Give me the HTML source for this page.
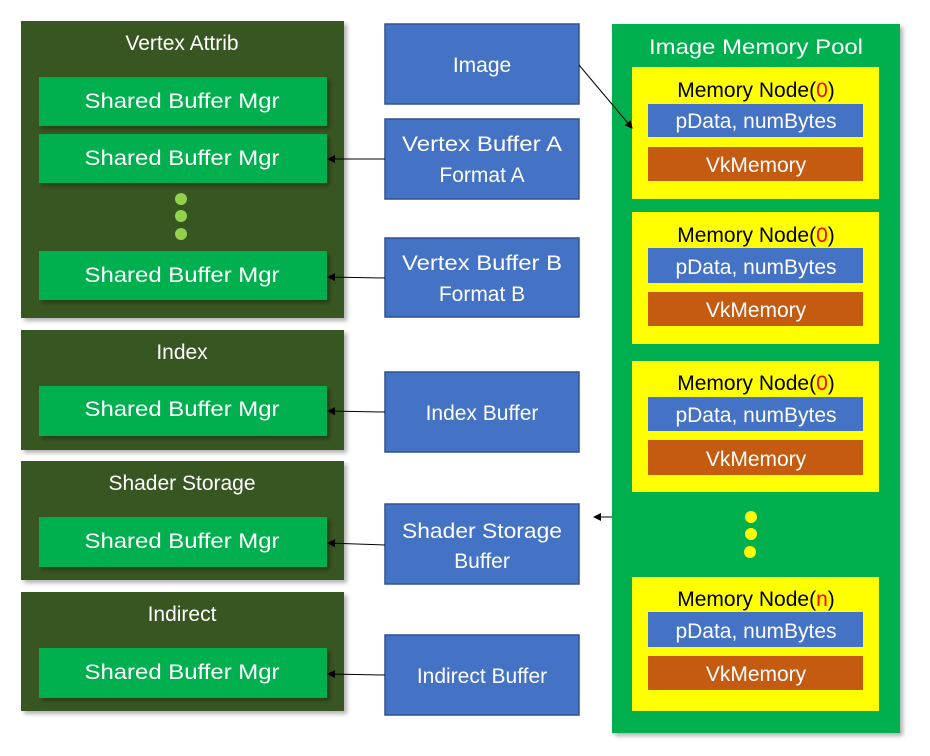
<!DOCTYPE html>
<html><head><meta charset="utf-8"><style>
html,body{margin:0;padding:0;background:#fff;}
svg{display:block;font-family:"Liberation Sans",sans-serif;}
</style></head><body>
<svg width="930" height="756" viewBox="0 0 930 756" xmlns="http://www.w3.org/2000/svg">
<defs>
<filter id="sh" x="-5%" y="-5%" width="115%" height="115%"><feDropShadow dx="3" dy="3" stdDeviation="2" flood-color="#000" flood-opacity="0.3"/></filter>
<marker id="ar" markerWidth="8" markerHeight="8" refX="7" refY="4" orient="auto" markerUnits="userSpaceOnUse"><path d="M0,0 L8,4 L0,8 z" fill="#000"/></marker>
</defs>
<!-- Left panels -->
<g filter="url(#sh)">
<rect x="21" y="21" width="323" height="297" fill="#375623"/>
<rect x="21" y="330" width="323" height="120" fill="#375623"/>
<rect x="21" y="461" width="323" height="119" fill="#375623"/>
<rect x="21" y="592" width="323" height="119" fill="#375623"/>
</g>
<g fill="#fff" font-size="21" text-anchor="middle">
<text x="182" y="50">Vertex Attrib</text>
<text x="182" y="359">Index</text>
<text x="182" y="490">Shader Storage</text>
<text x="182" y="621">Indirect</text>
</g>
<g filter="url(#sh)" fill="#00b050">
<rect x="39" y="77" width="288" height="49"/>
<rect x="39" y="134" width="288" height="49"/>
<rect x="39" y="251" width="288" height="49"/>
<rect x="39" y="386" width="288" height="50"/>
<rect x="39" y="517" width="288" height="50"/>
<rect x="39" y="648" width="288" height="50"/>
</g>
<g fill="#fff" font-size="21" text-anchor="middle">
<text x="182" y="108" textLength="195" lengthAdjust="spacingAndGlyphs">Shared Buffer Mgr</text>
<text x="182" y="165" textLength="195" lengthAdjust="spacingAndGlyphs">Shared Buffer Mgr</text>
<text x="182" y="282" textLength="195" lengthAdjust="spacingAndGlyphs">Shared Buffer Mgr</text>
<text x="182" y="416" textLength="195" lengthAdjust="spacingAndGlyphs">Shared Buffer Mgr</text>
<text x="182" y="548" textLength="195" lengthAdjust="spacingAndGlyphs">Shared Buffer Mgr</text>
<text x="182" y="679" textLength="195" lengthAdjust="spacingAndGlyphs">Shared Buffer Mgr</text>
</g>
<g fill="#92d050"><circle cx="181" cy="199" r="6"/><circle cx="181" cy="216" r="6"/><circle cx="181" cy="234" r="6"/></g>
<!-- middle blue -->
<g fill="#4472c4" stroke="#2f528f" stroke-width="1.5">
<rect x="385" y="24" width="194" height="80"/>
<rect x="385" y="119" width="194" height="80"/>
<rect x="385" y="238" width="194" height="79"/>
<rect x="385" y="372" width="194" height="80"/>
<rect x="385" y="504" width="194" height="80"/>
<rect x="385" y="635" width="194" height="80"/>
</g>
<g fill="#fff" font-size="21" text-anchor="middle">
<text x="482" y="72">Image</text>
<text x="482" y="151" textLength="160" lengthAdjust="spacingAndGlyphs">Vertex Buffer A</text>
<text x="482" y="182">Format A</text>
<text x="482" y="270" textLength="160" lengthAdjust="spacingAndGlyphs">Vertex Buffer B</text>
<text x="482" y="301">Format B</text>
<text x="482" y="420">Index Buffer</text>
<text x="482" y="538" textLength="160" lengthAdjust="spacingAndGlyphs">Shader Storage</text>
<text x="482" y="568">Buffer</text>
<text x="482" y="683">Indirect Buffer</text>
</g>
<!-- pool -->
<rect x="612" y="24" width="288" height="709" fill="#00b050" filter="url(#sh)"/>
<text x="756" y="54" fill="#fff" font-size="21" text-anchor="middle" textLength="214" lengthAdjust="spacingAndGlyphs">Image Memory Pool</text>
<g id="n">
</g>
<g font-size="21" text-anchor="middle">
<rect x="632" y="67" width="247" height="132" fill="#ffff00"/>
<rect x="648" y="104" width="215" height="33" fill="#4472c4"/>
<rect x="648" y="147" width="215" height="34" fill="#c55a11"/>
<text x="756" y="97" fill="#000">Memory Node(<tspan fill="#ff0000">0</tspan>)</text>
<text x="756" y="128" fill="#fff">pData, numBytes</text>
<text x="756" y="172" fill="#fff">VkMemory</text>

<rect x="632" y="212" width="247" height="132" fill="#ffff00"/>
<rect x="648" y="248" width="215" height="35" fill="#4472c4"/>
<rect x="648" y="292" width="215" height="34" fill="#c55a11"/>
<text x="756" y="242" fill="#000">Memory Node(<tspan fill="#ff0000">0</tspan>)</text>
<text x="756" y="274" fill="#fff">pData, numBytes</text>
<text x="756" y="317" fill="#fff">VkMemory</text>

<rect x="632" y="361" width="247" height="131" fill="#ffff00"/>
<rect x="648" y="397" width="215" height="34" fill="#4472c4"/>
<rect x="648" y="440" width="215" height="35" fill="#c55a11"/>
<text x="756" y="390" fill="#000">Memory Node(<tspan fill="#ff0000">0</tspan>)</text>
<text x="756" y="422" fill="#fff">pData, numBytes</text>
<text x="756" y="466" fill="#fff">VkMemory</text>

<rect x="632" y="577" width="247" height="134" fill="#ffff00"/>
<rect x="648" y="612" width="215" height="35" fill="#4472c4"/>
<rect x="648" y="656" width="215" height="34" fill="#c55a11"/>
<text x="756" y="606" fill="#000">Memory Node(<tspan fill="#ff0000">n</tspan>)</text>
<text x="756" y="638" fill="#fff">pData, numBytes</text>
<text x="756" y="681" fill="#fff">VkMemory</text>
</g>
<g fill="#ffff00"><circle cx="751" cy="517" r="6"/><circle cx="751" cy="534" r="6"/><circle cx="750" cy="552" r="6"/></g>
<!-- arrows -->
<g stroke="#000" stroke-width="1" fill="none" marker-end="url(#ar)">
<line x1="579" y1="65" x2="632" y2="128"/>
<line x1="612" y1="517" x2="594" y2="517"/>
<line x1="385" y1="159" x2="328" y2="159"/>
<line x1="385" y1="278" x2="328" y2="277"/>
<line x1="385" y1="412" x2="328" y2="411"/>
<line x1="385" y1="545" x2="328" y2="543"/>
<line x1="385" y1="675" x2="328" y2="674"/>
</g>
</svg>
</body></html>
